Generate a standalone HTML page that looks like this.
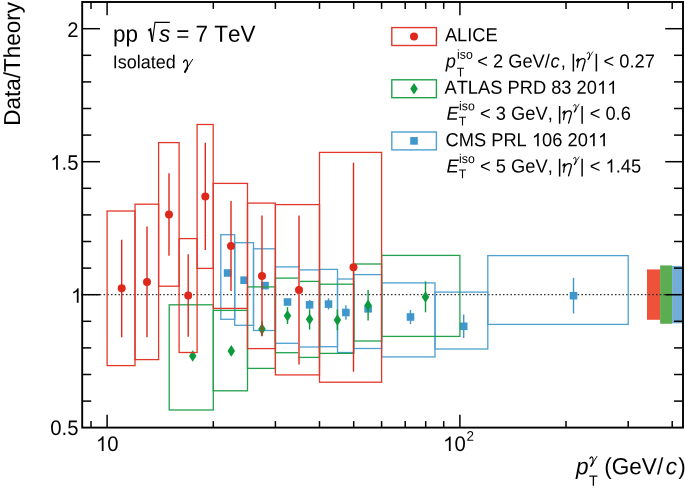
<!DOCTYPE html>
<html><head><meta charset="utf-8"><title>Data/Theory</title>
<style>
html,body{margin:0;padding:0;background:#fff;}
body{width:685px;height:491px;overflow:hidden;}
svg{display:block;will-change:transform;}
text{font-kerning:none;fill:#000;white-space:pre;text-rendering:geometricPrecision;}
.ss{font-family:"Liberation Sans",sans-serif;}
.sf{font-family:"Liberation Serif",serif;}
</style></head><body>
<svg width="685" height="491" viewBox="0 0 685 491">
<rect x="0" y="0" width="685" height="491" fill="#fff"/>
<rect x="647" y="269.4" width="13.2" height="50.4" fill="#EE533A"/>
<rect x="660.1" y="265.4" width="12.1" height="58.4" fill="#5CAC52"/>
<rect x="672.1" y="265.9" width="10.5" height="57.4" fill="#73ACD6"/>
<line x1="81.12" y1="294.65" x2="682.95" y2="294.65" stroke="#303030" stroke-width="1.4" stroke-dasharray="1.55,2.183"/>
<rect x="220.8" y="234.7" width="13.9" height="84.6" fill="none" stroke="#4FA0D0" stroke-width="1.3"/>
<rect x="234.7" y="242.7" width="18.8" height="82.6" fill="none" stroke="#4FA0D0" stroke-width="1.3"/>
<rect x="253.5" y="248.8" width="21.9" height="81.7" fill="none" stroke="#4FA0D0" stroke-width="1.3"/>
<rect x="275.4" y="266.9" width="23.6" height="76.4" fill="none" stroke="#4FA0D0" stroke-width="1.3"/>
<rect x="299.0" y="269.9" width="20.5" height="77.1" fill="none" stroke="#4FA0D0" stroke-width="1.3"/>
<rect x="319.5" y="269.4" width="18.0" height="77.3" fill="none" stroke="#4FA0D0" stroke-width="1.3"/>
<rect x="337.5" y="279.0" width="16.1" height="73.5" fill="none" stroke="#4FA0D0" stroke-width="1.3"/>
<rect x="353.7" y="274.6" width="27.9" height="73.9" fill="none" stroke="#4FA0D0" stroke-width="1.3"/>
<rect x="381.6" y="282.9" width="53.4" height="74.0" fill="none" stroke="#4FA0D0" stroke-width="1.3"/>
<rect x="435.0" y="292.1" width="52.8" height="56.9" fill="none" stroke="#4FA0D0" stroke-width="1.3"/>
<rect x="487.8" y="255.6" width="140.4" height="68.8" fill="none" stroke="#4FA0D0" stroke-width="1.3"/>
<rect x="223.8" y="269.2" width="7.6" height="7.6" fill="#3F97CB"/>
<rect x="240.3" y="276.4" width="7.6" height="7.6" fill="#3F97CB"/>
<rect x="261.2" y="281.8" width="7.6" height="7.6" fill="#3F97CB"/>
<rect x="283.7" y="298.2" width="7.6" height="7.6" fill="#3F97CB"/>
<line x1="309.6" y1="299.9" x2="309.6" y2="309.5" stroke="#3F97CB" stroke-width="1.4"/>
<rect x="305.8" y="301.0" width="7.6" height="7.6" fill="#3F97CB"/>
<line x1="328.5" y1="298.2" x2="328.5" y2="309.5" stroke="#3F97CB" stroke-width="1.4"/>
<rect x="324.7" y="300.3" width="7.6" height="7.6" fill="#3F97CB"/>
<line x1="345.9" y1="305.3" x2="345.9" y2="319.8" stroke="#3F97CB" stroke-width="1.4"/>
<rect x="342.1" y="308.7" width="7.6" height="7.6" fill="#3F97CB"/>
<rect x="364.3" y="305.0" width="7.6" height="7.6" fill="#3F97CB"/>
<line x1="410.5" y1="310" x2="410.5" y2="324" stroke="#3F97CB" stroke-width="1.4"/>
<rect x="406.7" y="313.2" width="7.6" height="7.6" fill="#3F97CB"/>
<line x1="463.7" y1="314.6" x2="463.7" y2="338" stroke="#3F97CB" stroke-width="1.4"/>
<rect x="459.9" y="322.5" width="7.6" height="7.6" fill="#3F97CB"/>
<line x1="573.5" y1="277.9" x2="573.5" y2="313.5" stroke="#3F97CB" stroke-width="1.4"/>
<rect x="569.7" y="291.9" width="7.6" height="7.6" fill="#3F97CB"/>
<rect x="169.2" y="304.8" width="44.1" height="105.2" fill="none" stroke="#22A24C" stroke-width="1.3"/>
<rect x="213.3" y="310.4" width="34.2" height="80.4" fill="none" stroke="#22A24C" stroke-width="1.3"/>
<rect x="247.5" y="286.9" width="27.9" height="81.5" fill="none" stroke="#22A24C" stroke-width="1.3"/>
<rect x="275.4" y="278.1" width="23.6" height="74.6" fill="none" stroke="#22A24C" stroke-width="1.3"/>
<rect x="299.0" y="281.4" width="20.5" height="76.0" fill="none" stroke="#22A24C" stroke-width="1.3"/>
<rect x="319.5" y="284.2" width="34.2" height="69.2" fill="none" stroke="#22A24C" stroke-width="1.3"/>
<rect x="353.7" y="264.0" width="27.9" height="77.0" fill="none" stroke="#22A24C" stroke-width="1.3"/>
<rect x="381.6" y="255.4" width="78.3" height="81.0" fill="none" stroke="#22A24C" stroke-width="1.3"/>
<path d="M192.7 350.2L196.45 356L192.7 361.8L188.95 356Z" fill="#0C9A3C"/>
<path d="M231.3 345.1L235.05 350.9L231.3 356.7L227.55 350.9Z" fill="#0C9A3C"/>
<line x1="262" y1="321.2" x2="262" y2="336" stroke="#0C9A3C" stroke-width="1.4"/>
<path d="M262 323.3L265.75 329.1L262 334.9L258.25 329.1Z" fill="#0C9A3C"/>
<line x1="287.5" y1="307.1" x2="287.5" y2="324" stroke="#0C9A3C" stroke-width="1.4"/>
<path d="M287.5 310.0L291.25 315.8L287.5 321.6L283.75 315.8Z" fill="#0C9A3C"/>
<line x1="309.6" y1="309.5" x2="309.6" y2="329.6" stroke="#0C9A3C" stroke-width="1.4"/>
<path d="M309.6 313.5L313.35 319.3L309.6 325.1L305.85 319.3Z" fill="#0C9A3C"/>
<line x1="337.4" y1="309.5" x2="337.4" y2="330.3" stroke="#0C9A3C" stroke-width="1.4"/>
<path d="M337.4 314.2L341.15 320L337.4 325.8L333.65 320Z" fill="#0C9A3C"/>
<line x1="368.1" y1="290" x2="368.1" y2="320.5" stroke="#0C9A3C" stroke-width="1.4"/>
<path d="M368.1 299.5L371.85 305.3L368.1 311.1L364.35 305.3Z" fill="#0C9A3C"/>
<line x1="425.5" y1="281.4" x2="425.5" y2="312.3" stroke="#0C9A3C" stroke-width="1.4"/>
<path d="M425.5 291.2L429.25 297L425.5 302.8L421.75 297Z" fill="#0C9A3C"/>
<rect x="107.1" y="211.0" width="27.9" height="154.6" fill="none" stroke="#E2382B" stroke-width="1.3"/>
<rect x="135.0" y="204.2" width="23.6" height="155.4" fill="none" stroke="#E2382B" stroke-width="1.3"/>
<rect x="158.6" y="142.6" width="20.5" height="143.6" fill="none" stroke="#E2382B" stroke-width="1.3"/>
<rect x="179.1" y="238.6" width="18.0" height="113.9" fill="none" stroke="#E2382B" stroke-width="1.3"/>
<rect x="197.1" y="124.5" width="16.1" height="143.9" fill="none" stroke="#E2382B" stroke-width="1.3"/>
<rect x="213.3" y="183.4" width="34.2" height="125.0" fill="none" stroke="#E2382B" stroke-width="1.3"/>
<rect x="247.5" y="203.1" width="27.9" height="145.5" fill="none" stroke="#E2382B" stroke-width="1.3"/>
<rect x="275.4" y="204.6" width="44.1" height="170.3" fill="none" stroke="#E2382B" stroke-width="1.3"/>
<rect x="319.5" y="152.4" width="62.1" height="229.8" fill="none" stroke="#E2382B" stroke-width="1.3"/>
<line x1="121.7" y1="239.8" x2="121.7" y2="337.3" stroke="#DE281C" stroke-width="1.4"/>
<circle cx="121.7" cy="288.3" r="4" fill="#DE281C"/>
<line x1="147" y1="226.5" x2="147" y2="337.3" stroke="#DE281C" stroke-width="1.4"/>
<circle cx="147" cy="282" r="4" fill="#DE281C"/>
<line x1="169" y1="173.2" x2="169" y2="255.7" stroke="#DE281C" stroke-width="1.4"/>
<circle cx="169" cy="214.4" r="4" fill="#DE281C"/>
<line x1="188.2" y1="254.3" x2="188.2" y2="336.8" stroke="#DE281C" stroke-width="1.4"/>
<circle cx="188.2" cy="295.5" r="4" fill="#DE281C"/>
<line x1="205.3" y1="142.8" x2="205.3" y2="249.9" stroke="#DE281C" stroke-width="1.4"/>
<circle cx="205.3" cy="196.6" r="4" fill="#DE281C"/>
<line x1="231" y1="200.9" x2="231" y2="290.9" stroke="#DE281C" stroke-width="1.4"/>
<circle cx="231" cy="246.1" r="4" fill="#DE281C"/>
<line x1="262" y1="215.4" x2="262" y2="336.2" stroke="#DE281C" stroke-width="1.4"/>
<circle cx="262" cy="276" r="4" fill="#DE281C"/>
<line x1="299.0" y1="267.6" x2="299.0" y2="356.8" stroke="#fff" stroke-width="1.7"/>
<line x1="299.0" y1="267.6" x2="299.0" y2="356.8" stroke="#fff" stroke-width="1.7"/>
<line x1="299.0" y1="215.4" x2="299.0" y2="364.6" stroke="#DE281C" stroke-width="1.4"/>
<circle cx="299.0" cy="289.9" r="4" fill="#DE281C"/>
<line x1="353.5" y1="162.7" x2="353.5" y2="371.7" stroke="#DE281C" stroke-width="1.4"/>
<circle cx="353.5" cy="267.3" r="4" fill="#DE281C"/>
<rect x="391.8" y="27.6" width="44.6" height="17.9" fill="none" stroke="#E2382B" stroke-width="1.4"/>
<circle cx="414" cy="36.5" r="4" fill="#DE281C"/>
<rect x="391.8" y="79.8" width="44.6" height="17.9" fill="none" stroke="#22A24C" stroke-width="1.4"/>
<path d="M414 82.9L417.75 88.7L414 94.5L410.25 88.7Z" fill="#0C9A3C"/>
<rect x="391.8" y="132.0" width="44.6" height="17.9" fill="none" stroke="#4FA0D0" stroke-width="1.4"/>
<rect x="410.2" y="137.1" width="7.6" height="7.6" fill="#3F97CB"/>
<rect x="82.2" y="2.0" width="600.8" height="425.6" fill="none" stroke="#000" stroke-width="1.9"/>
<line x1="82.2" y1="28.7" x2="100.0" y2="28.7" stroke="#000" stroke-width="1.5"/>
<line x1="682.95" y1="28.7" x2="665.2" y2="28.7" stroke="#000" stroke-width="1.5"/>
<line x1="82.2" y1="55.3" x2="91.2" y2="55.3" stroke="#000" stroke-width="1.5"/>
<line x1="682.95" y1="55.3" x2="674.0" y2="55.3" stroke="#000" stroke-width="1.5"/>
<line x1="82.2" y1="81.9" x2="91.2" y2="81.9" stroke="#000" stroke-width="1.5"/>
<line x1="682.95" y1="81.9" x2="674.0" y2="81.9" stroke="#000" stroke-width="1.5"/>
<line x1="82.2" y1="108.5" x2="91.2" y2="108.5" stroke="#000" stroke-width="1.5"/>
<line x1="682.95" y1="108.5" x2="674.0" y2="108.5" stroke="#000" stroke-width="1.5"/>
<line x1="82.2" y1="135.1" x2="91.2" y2="135.1" stroke="#000" stroke-width="1.5"/>
<line x1="682.95" y1="135.1" x2="674.0" y2="135.1" stroke="#000" stroke-width="1.5"/>
<line x1="82.2" y1="161.7" x2="100.0" y2="161.7" stroke="#000" stroke-width="1.5"/>
<line x1="682.95" y1="161.7" x2="665.2" y2="161.7" stroke="#000" stroke-width="1.5"/>
<line x1="82.2" y1="188.3" x2="91.2" y2="188.3" stroke="#000" stroke-width="1.5"/>
<line x1="682.95" y1="188.3" x2="674.0" y2="188.3" stroke="#000" stroke-width="1.5"/>
<line x1="82.2" y1="214.9" x2="91.2" y2="214.9" stroke="#000" stroke-width="1.5"/>
<line x1="682.95" y1="214.9" x2="674.0" y2="214.9" stroke="#000" stroke-width="1.5"/>
<line x1="82.2" y1="241.5" x2="91.2" y2="241.5" stroke="#000" stroke-width="1.5"/>
<line x1="682.95" y1="241.5" x2="674.0" y2="241.5" stroke="#000" stroke-width="1.5"/>
<line x1="82.2" y1="268.1" x2="91.2" y2="268.1" stroke="#000" stroke-width="1.5"/>
<line x1="682.95" y1="268.1" x2="674.0" y2="268.1" stroke="#000" stroke-width="1.5"/>
<line x1="82.2" y1="294.7" x2="100.0" y2="294.7" stroke="#000" stroke-width="1.5"/>
<line x1="682.95" y1="294.7" x2="665.2" y2="294.7" stroke="#000" stroke-width="1.5"/>
<line x1="82.2" y1="321.3" x2="91.2" y2="321.3" stroke="#000" stroke-width="1.5"/>
<line x1="682.95" y1="321.3" x2="674.0" y2="321.3" stroke="#000" stroke-width="1.5"/>
<line x1="82.2" y1="347.9" x2="91.2" y2="347.9" stroke="#000" stroke-width="1.5"/>
<line x1="682.95" y1="347.9" x2="674.0" y2="347.9" stroke="#000" stroke-width="1.5"/>
<line x1="82.2" y1="374.5" x2="91.2" y2="374.5" stroke="#000" stroke-width="1.5"/>
<line x1="682.95" y1="374.5" x2="674.0" y2="374.5" stroke="#000" stroke-width="1.5"/>
<line x1="82.2" y1="401.1" x2="91.2" y2="401.1" stroke="#000" stroke-width="1.5"/>
<line x1="682.95" y1="401.1" x2="674.0" y2="401.1" stroke="#000" stroke-width="1.5"/>
<line x1="91.0" y1="427.6" x2="91.0" y2="421.1" stroke="#000" stroke-width="1.5"/>
<line x1="91.0" y1="2.0" x2="91.0" y2="8.9" stroke="#000" stroke-width="1.5"/>
<line x1="107.1" y1="427.6" x2="107.1" y2="414.8" stroke="#000" stroke-width="1.5"/>
<line x1="107.1" y1="2.0" x2="107.1" y2="15.2" stroke="#000" stroke-width="1.5"/>
<line x1="213.3" y1="427.6" x2="213.3" y2="421.1" stroke="#000" stroke-width="1.5"/>
<line x1="213.3" y1="2.0" x2="213.3" y2="8.9" stroke="#000" stroke-width="1.5"/>
<line x1="275.4" y1="427.6" x2="275.4" y2="421.1" stroke="#000" stroke-width="1.5"/>
<line x1="275.4" y1="2.0" x2="275.4" y2="8.9" stroke="#000" stroke-width="1.5"/>
<line x1="319.5" y1="427.6" x2="319.5" y2="421.1" stroke="#000" stroke-width="1.5"/>
<line x1="319.5" y1="2.0" x2="319.5" y2="8.9" stroke="#000" stroke-width="1.5"/>
<line x1="353.7" y1="427.6" x2="353.7" y2="421.1" stroke="#000" stroke-width="1.5"/>
<line x1="353.7" y1="2.0" x2="353.7" y2="8.9" stroke="#000" stroke-width="1.5"/>
<line x1="381.6" y1="427.6" x2="381.6" y2="421.1" stroke="#000" stroke-width="1.5"/>
<line x1="381.6" y1="2.0" x2="381.6" y2="8.9" stroke="#000" stroke-width="1.5"/>
<line x1="405.2" y1="427.6" x2="405.2" y2="421.1" stroke="#000" stroke-width="1.5"/>
<line x1="405.2" y1="2.0" x2="405.2" y2="8.9" stroke="#000" stroke-width="1.5"/>
<line x1="425.7" y1="427.6" x2="425.7" y2="421.1" stroke="#000" stroke-width="1.5"/>
<line x1="425.7" y1="2.0" x2="425.7" y2="8.9" stroke="#000" stroke-width="1.5"/>
<line x1="443.7" y1="427.6" x2="443.7" y2="421.1" stroke="#000" stroke-width="1.5"/>
<line x1="443.7" y1="2.0" x2="443.7" y2="8.9" stroke="#000" stroke-width="1.5"/>
<line x1="459.9" y1="427.6" x2="459.9" y2="414.8" stroke="#000" stroke-width="1.5"/>
<line x1="459.9" y1="2.0" x2="459.9" y2="15.2" stroke="#000" stroke-width="1.5"/>
<line x1="566.0" y1="427.6" x2="566.0" y2="421.1" stroke="#000" stroke-width="1.5"/>
<line x1="566.0" y1="2.0" x2="566.0" y2="8.9" stroke="#000" stroke-width="1.5"/>
<line x1="628.2" y1="427.6" x2="628.2" y2="421.1" stroke="#000" stroke-width="1.5"/>
<line x1="628.2" y1="2.0" x2="628.2" y2="8.9" stroke="#000" stroke-width="1.5"/>
<line x1="672.2" y1="427.6" x2="672.2" y2="421.1" stroke="#000" stroke-width="1.5"/>
<line x1="672.2" y1="2.0" x2="672.2" y2="8.9" stroke="#000" stroke-width="1.5"/>
<path d="M148.3 30.6L150.3 29.3L152.3 41.6" fill="none" stroke="#000" stroke-width="1.9" stroke-linejoin="miter"/>
<path d="M152.3 41.9L155 22.4L169.8 22.4" fill="none" stroke="#000" stroke-width="1.1"/>
<text class="ss" transform="translate(67.20,37.00) rotate(0.03) scale(1,1.035)" font-size="20.3">2</text>
<path d="M372.6 0H284.7V560.1Q252.9 529.8 201.4 499.5Q149.9 469.2 108.9 454.1V539.1Q182.6 573.7 237.8 623Q293 672.4 315.9 718.8H372.6Z" transform="translate(50.29,169.70) scale(0.02030,-0.02030)"/>
<text class="ss" transform="translate(61.57,169.70) rotate(0.03) scale(1,1.035)" font-size="20.3">.5</text>
<path d="M372.6 0H284.7V560.1Q252.9 529.8 201.4 499.5Q149.9 469.2 108.9 454.1V539.1Q182.6 573.7 237.8 623Q293 672.4 315.9 718.8H372.6Z" transform="translate(71.04,302.80) scale(0.02030,-0.02030)"/>
<text class="ss" transform="translate(50.29,434.90) rotate(0.03) scale(1,1.035)" font-size="20.3">0.5</text>
<path d="M372.6 0H284.7V560.1Q252.9 529.8 201.4 499.5Q149.9 469.2 108.9 454.1V539.1Q182.6 573.7 237.8 623Q293 672.4 315.9 718.8H372.6Z" transform="translate(95.99,450.90) scale(0.02030,-0.02030)"/>
<text class="ss" transform="translate(107.28,450.90) rotate(0.03) scale(1,1.035)" font-size="20.3">0</text>
<path d="M372.6 0H284.7V560.1Q252.9 529.8 201.4 499.5Q149.9 469.2 108.9 454.1V539.1Q182.6 573.7 237.8 623Q293 672.4 315.9 718.8H372.6Z" transform="translate(443.09,451.00) scale(0.02030,-0.02030)"/>
<text class="ss" transform="translate(454.38,451.00) rotate(0.03) scale(1,1.035)" font-size="20.3">0</text>
<text class="ss" transform="translate(466.40,440.80) rotate(0.03) scale(1,1.035)" font-size="13.5">2</text>
<text class="ss" transform="translate(444.90,41.30) rotate(0.03) scale(1,1.035)" font-size="18.3">ALICE</text>
<text class="ss" transform="translate(444.50,93.80) rotate(0.03) scale(1,1.035)" font-size="18.3">ATLAS PRD 83 20</text>
<path d="M372.6 0H284.7V560.1Q252.9 529.8 201.4 499.5Q149.9 469.2 108.9 454.1V539.1Q182.6 573.7 237.8 623Q293 672.4 315.9 718.8H372.6Z" transform="translate(597.07,93.80) scale(0.01830,-0.01830)"/>
<path d="M372.6 0H284.7V560.1Q252.9 529.8 201.4 499.5Q149.9 469.2 108.9 454.1V539.1Q182.6 573.7 237.8 623Q293 672.4 315.9 718.8H372.6Z" transform="translate(607.24,93.80) scale(0.01830,-0.01830)"/>
<text class="ss" transform="translate(445.50,146.20) rotate(0.03) scale(1,1.035)" font-size="18.3">CMS PRL </text>
<path d="M372.6 0H284.7V560.1Q252.9 529.8 201.4 499.5Q149.9 469.2 108.9 454.1V539.1Q182.6 573.7 237.8 623Q293 672.4 315.9 718.8H372.6Z" transform="translate(531.93,146.20) scale(0.01830,-0.01830)"/>
<text class="ss" transform="translate(542.11,146.20) rotate(0.03) scale(1,1.035)" font-size="18.3">06 20</text>
<path d="M372.6 0H284.7V560.1Q252.9 529.8 201.4 499.5Q149.9 469.2 108.9 454.1V539.1Q182.6 573.7 237.8 623Q293 672.4 315.9 718.8H372.6Z" transform="translate(587.89,146.20) scale(0.01830,-0.01830)"/>
<path d="M372.6 0H284.7V560.1Q252.9 529.8 201.4 499.5Q149.9 469.2 108.9 454.1V539.1Q182.6 573.7 237.8 623Q293 672.4 315.9 718.8H372.6Z" transform="translate(598.07,146.20) scale(0.01830,-0.01830)"/>
<text class="ss" transform="translate(445.80,67.40) rotate(0.03) scale(1,1.035)" font-size="18.3" font-style="italic">p</text>
<text class="ss" transform="translate(457.00,58.80) rotate(0.03) scale(1,1.035)" font-size="12.3">iso</text>
<text class="ss" transform="translate(456.80,76.50) rotate(0.03) scale(1,1.035)" font-size="12.3">T</text>
<text class="ss" transform="translate(477.20,67.40) rotate(0.03) scale(1,1.035)" font-size="18.3">&lt; 2 GeV/</text>
<text class="ss" transform="translate(550.40,67.40) rotate(0.03) scale(1,1.035)" font-size="18.3" font-style="italic">c</text>
<text class="ss" transform="translate(560.70,67.40) rotate(0.03) scale(1,1.035)" font-size="18.3">,</text>
<text class="ss" transform="translate(571.00,67.40) rotate(0.03) scale(1,1.035)" font-size="18.3">|</text>
<g transform="translate(576.40,67.40)" fill="none" stroke="#000" stroke-linecap="round" stroke-linejoin="round"><path d="M0.2 -6.7C0.8 -8.1 1.5 -8.7 2.1 -8.5L0.9 -0.2" stroke-width="1.35"/><path d="M1.5 -5.2C3 -7.6 5 -9 6.9 -8.7C8.4 -8.4 8.9 -7.4 8.6 -6.1L5.9 3.4" stroke-width="1.3"/></g>
<g transform="translate(587.00,51.60) scale(0.61)" fill="none" stroke="#000" stroke-linecap="round"><path d="M0.3 3.3C0.8 1.7 2 0.7 3 1.1C4.3 1.7 4.5 5 4.1 8.6" stroke-width="1.5"/><path d="M9.4 0.4L4.1 8.8" stroke-width="1.25"/><path d="M4 9L1.7 13" stroke-width="2.2"/></g>
<text class="ss" transform="translate(594.00,67.40) rotate(0.03) scale(1,1.035)" font-size="18.3">|</text>
<text class="ss" transform="translate(603.50,67.40) rotate(0.03) scale(1,1.035)" font-size="18.3">&lt; 0.27</text>
<text class="ss" transform="translate(446.60,119.70) rotate(0.03) scale(1,1.035)" font-size="18.3" font-style="italic">E</text>
<text class="ss" transform="translate(459.10,110.20) rotate(0.03) scale(1,1.035)" font-size="12.3">iso</text>
<text class="ss" transform="translate(458.80,125.60) rotate(0.03) scale(1,1.035)" font-size="12.3">T</text>
<text class="ss" transform="translate(480.10,119.70) rotate(0.03) scale(1,1.035)" font-size="18.3">&lt; 3 GeV,</text>
<text class="ss" transform="translate(557.30,119.70) rotate(0.03) scale(1,1.035)" font-size="18.3">|</text>
<g transform="translate(562.70,119.70)" fill="none" stroke="#000" stroke-linecap="round" stroke-linejoin="round"><path d="M0.2 -6.7C0.8 -8.1 1.5 -8.7 2.1 -8.5L0.9 -0.2" stroke-width="1.35"/><path d="M1.5 -5.2C3 -7.6 5 -9 6.9 -8.7C8.4 -8.4 8.9 -7.4 8.6 -6.1L5.9 3.4" stroke-width="1.3"/></g>
<g transform="translate(573.40,103.90) scale(0.61)" fill="none" stroke="#000" stroke-linecap="round"><path d="M0.3 3.3C0.8 1.7 2 0.7 3 1.1C4.3 1.7 4.5 5 4.1 8.6" stroke-width="1.5"/><path d="M9.4 0.4L4.1 8.8" stroke-width="1.25"/><path d="M4 9L1.7 13" stroke-width="2.2"/></g>
<text class="ss" transform="translate(579.80,119.70) rotate(0.03) scale(1,1.035)" font-size="18.3">|</text>
<text class="ss" transform="translate(589.70,119.70) rotate(0.03) scale(1,1.035)" font-size="18.3">&lt; 0.6</text>
<text class="ss" transform="translate(446.60,172.40) rotate(0.03) scale(1,1.035)" font-size="18.3" font-style="italic">E</text>
<text class="ss" transform="translate(459.10,162.90) rotate(0.03) scale(1,1.035)" font-size="12.3">iso</text>
<text class="ss" transform="translate(458.80,178.30) rotate(0.03) scale(1,1.035)" font-size="12.3">T</text>
<text class="ss" transform="translate(480.10,172.40) rotate(0.03) scale(1,1.035)" font-size="18.3">&lt; 5 GeV,</text>
<text class="ss" transform="translate(557.30,172.40) rotate(0.03) scale(1,1.035)" font-size="18.3">|</text>
<g transform="translate(562.70,172.40)" fill="none" stroke="#000" stroke-linecap="round" stroke-linejoin="round"><path d="M0.2 -6.7C0.8 -8.1 1.5 -8.7 2.1 -8.5L0.9 -0.2" stroke-width="1.35"/><path d="M1.5 -5.2C3 -7.6 5 -9 6.9 -8.7C8.4 -8.4 8.9 -7.4 8.6 -6.1L5.9 3.4" stroke-width="1.3"/></g>
<g transform="translate(573.40,156.60) scale(0.61)" fill="none" stroke="#000" stroke-linecap="round"><path d="M0.3 3.3C0.8 1.7 2 0.7 3 1.1C4.3 1.7 4.5 5 4.1 8.6" stroke-width="1.5"/><path d="M9.4 0.4L4.1 8.8" stroke-width="1.25"/><path d="M4 9L1.7 13" stroke-width="2.2"/></g>
<text class="ss" transform="translate(579.80,172.40) rotate(0.03) scale(1,1.035)" font-size="18.3">|</text>
<text class="ss" transform="translate(589.70,172.40) rotate(0.03) scale(1,1.035)" font-size="18.3">&lt; </text>
<path d="M372.6 0H284.7V560.1Q252.9 529.8 201.4 499.5Q149.9 469.2 108.9 454.1V539.1Q182.6 573.7 237.8 623Q293 672.4 315.9 718.8H372.6Z" transform="translate(605.47,172.40) scale(0.01830,-0.01830)"/>
<text class="ss" transform="translate(615.65,172.40) rotate(0.03) scale(1,1.035)" font-size="18.3">.45</text>
<text class="ss" transform="translate(112.90,41.80) rotate(0.03) scale(1,1.035)" font-size="22.5">pp</text>
<text class="ss" transform="translate(159.10,41.80) rotate(0.03) scale(1,1.035)" font-size="22.5" font-style="italic">s</text>
<text class="ss" transform="translate(176.20,41.80) rotate(0.03) scale(1,1.035)" font-size="22.5">= 7 TeV</text>
<text class="ss" transform="translate(112.80,68.30) rotate(0.03) scale(1,1.035)" font-size="18.0">Isolated</text>
<g transform="translate(183.20,59.00) scale(1.0)" fill="none" stroke="#000" stroke-linecap="round"><path d="M0.3 3.3C0.8 1.7 2 0.7 3 1.1C4.3 1.7 4.5 5 4.1 8.6" stroke-width="1.35"/><path d="M9.4 0.4L4.1 8.8" stroke-width="1.0"/><path d="M4 9L1.7 13" stroke-width="2.0"/></g>
<text class="ss" transform="translate(576.10,474.20) rotate(0.03) scale(1,1.035)" font-size="22.6" font-style="italic">p</text>
<g transform="translate(589.70,456.10) scale(0.77)" fill="none" stroke="#000" stroke-linecap="round"><path d="M0.3 3.3C0.8 1.7 2 0.7 3 1.1C4.3 1.7 4.5 5 4.1 8.6" stroke-width="1.5"/><path d="M9.4 0.4L4.1 8.8" stroke-width="1.25"/><path d="M4 9L1.7 13" stroke-width="2.2"/></g>
<text class="ss" transform="translate(588.90,485.70) rotate(0.03) scale(1,1.035)" font-size="14.4">T</text>
<text class="ss" transform="translate(604.20,474.20) rotate(0.03) scale(1,1.035)" font-size="22.6">(GeV/</text>
<text class="ss" transform="translate(665.70,474.20) rotate(0.03) scale(1,1.035)" font-size="22.6" font-style="italic">c</text>
<text class="ss" transform="translate(678.20,474.20) rotate(0.03) scale(1,1.035)" font-size="22.6">)</text>
<text class="ss" font-size="22.5" transform="translate(19.75,125.85) rotate(-90) scale(1,1.027)" x="0" y="0">Data/Theory</text>
</svg>
</body></html>
